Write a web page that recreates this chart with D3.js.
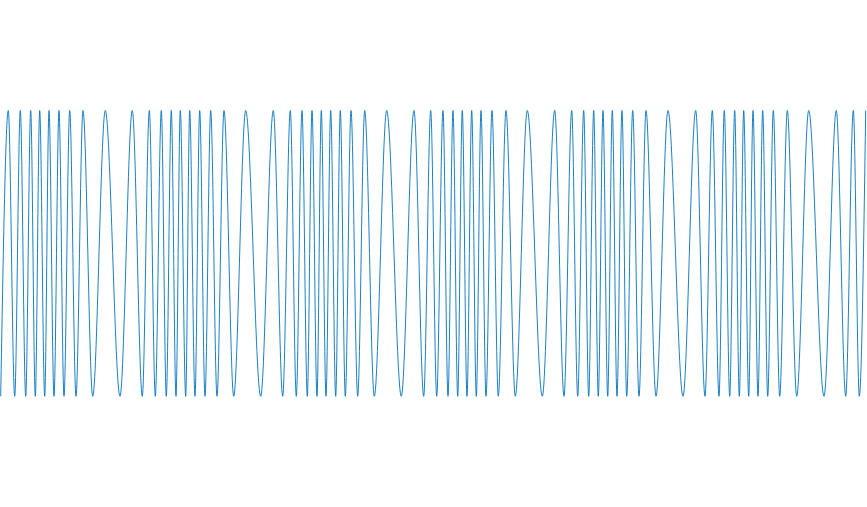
<!DOCTYPE html>
<html>
<head>
<meta charset="utf-8">
<script src="https://cdn.jsdelivr.net/npm/d3@7"></script>
<style>
  html, body { margin: 0; padding: 0; background: #fff; }
  svg { display: block; }
</style>
</head>
<body>
<svg id="chart" width="867" height="507"></svg>
<script>
// Times of the signal's troughs (value -1) and peaks (value +1)
const troughTimes = [0.7, 14.7, 25.7, 35.3, 44.7, 54, 64, 76, 92.7, 120,
  142.3, 155.3, 166.3, 176, 185.7, 195, 205, 217, 233.7, 260.7,
  282.7, 296.3, 307.3, 317, 326, 335.7, 345.3, 357.7, 374.3, 401.3,
  423.7, 436.7, 448, 457.7, 467, 476.3, 486, 498.3, 515.3, 542.3,
  564, 577.7, 588.7, 598.3, 607.7, 617, 626.7, 639, 656, 683,
  705, 719, 729.7, 739.3, 748.7, 758, 767.7, 779.7, 796.7, 824,
  845.7, 859.3];
const peakTimes = [8.3, 20.3, 30.7, 39.7, 49, 59, 69.7, 83, 105.3, 132.3,
  149.3, 161.3, 171.3, 180.3, 189.7, 199.7, 210.7, 224, 245.7, 273.3,
  290.3, 302, 312, 321.3, 330.7, 340.3, 351, 364.7, 386.7, 414,
  430.7, 443, 453, 462.3, 471.7, 481, 492, 506, 527.3, 554.7,
  571.7, 583.7, 593.7, 603, 612.3, 622, 632.7, 646, 668, 695.7,
  712.3, 724.3, 734.7, 743.7, 753, 762.7, 773.3, 787.3, 808.7, 836.3,
  853.3, 865.7];
const troughValue = -1;
const peakValue = 1;

const points = troughTimes.map(t => ({ t, v: troughValue }))
  .concat(peakTimes.map(t => ({ t, v: peakValue })))
  .sort((a, b) => a.t - b.t);

const width = 867, height = 507;
const svg = d3.select("#chart");

const x = d3.scaleLinear().domain([0, 867]).range([0, width]);
const y = d3.scaleLinear().domain([-1, 1]).range([396.3, 110.5]);

const line = d3.line()
  .x(d => x(d.t))
  .y(d => y(d.v))
  .curve(d3.curveMonotoneX);

svg.append("path")
  .datum(points)
  .attr("fill", "none")
  .attr("stroke", "#0072bd")
  .attr("stroke-width", 0.9)
  .attr("d", line);
</script>
</body>
</html>
